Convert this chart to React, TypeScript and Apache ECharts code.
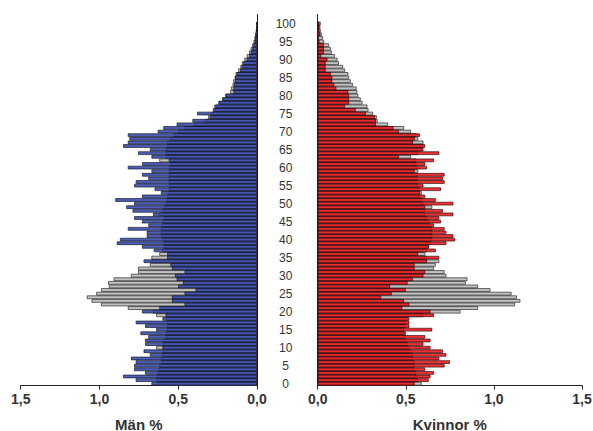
import React, { useEffect, useRef } from "react";
import * as echarts from "echarts";

// Age categories 0..100 (plus two empty slots above 100 so the axis lines reach above the top bar)
const ageCats: string[] = Array.from({ length: 103 }, (_, i) => String(i));
const tickAges = [0, 5, 10, 15, 20, 25, 30, 35, 40, 45, 50, 55, 60, 65, 70, 75, 80, 85, 90, 95, 100];
const xTicks = [0, 0.5, 1.0, 1.5];

// Men, comparison population (grey), % by age 0..100
const maleGray = [
  0.63, 0.64, 0.64, 0.63, 0.62, 0.62, 0.61, 0.61, 0.60, 0.60,
  0.64, 0.60, 0.59, 0.58, 0.58, 0.57, 0.57, 0.57, 0.58, 0.64,
  0.66, 0.82, 0.99, 1.05, 1.08, 1.02, 0.99, 0.94, 0.945, 0.91,
  0.80, 0.755, 0.755, 0.68, 0.67, 0.67, 0.62, 0.60, 0.59, 0.59,
  0.60, 0.61, 0.61, 0.61, 0.60, 0.60, 0.59, 0.62, 0.60, 0.59,
  0.58, 0.57, 0.57, 0.56, 0.56, 0.56, 0.56, 0.56, 0.56, 0.56,
  0.56, 0.55, 0.62, 0.58, 0.58, 0.58, 0.57, 0.57, 0.55, 0.53,
  0.50, 0.46, 0.40, 0.33, 0.31, 0.29, 0.27, 0.26, 0.24, 0.22,
  0.20, 0.17, 0.165, 0.155, 0.15, 0.14, 0.135, 0.12, 0.105, 0.095,
  0.08, 0.065, 0.05, 0.04, 0.03, 0.022, 0.016, 0.011, 0.007, 0.005,
  0.004,
];

// Men, local population (blue), % by age 0..100
const maleBlue = [
  0.67, 0.77, 0.85, 0.71, 0.78, 0.78, 0.77, 0.80, 0.68, 0.72,
  0.60, 0.71, 0.71, 0.69, 0.74, 0.64, 0.71, 0.77, 0.60, 0.58,
  0.73, 0.62, 0.46, 0.54, 0.54, 0.46, 0.39, 0.50, 0.47, 0.51,
  0.52, 0.46, 0.54, 0.55, 0.72, 0.57, 0.57, 0.655, 0.73, 0.89,
  0.87, 0.70, 0.70, 0.82, 0.69, 0.73, 0.78, 0.66, 0.79, 0.83,
  0.78, 0.90, 0.73, 0.61, 0.65, 0.78, 0.77, 0.69, 0.73, 0.67,
  0.82, 0.73, 0.56, 0.67, 0.755, 0.68, 0.85, 0.82, 0.81, 0.82,
  0.63, 0.595, 0.51, 0.41, 0.30, 0.38, 0.28, 0.27, 0.245, 0.22,
  0.20, 0.15, 0.15, 0.145, 0.14, 0.14, 0.13, 0.107, 0.097, 0.087,
  0.065, 0.05, 0.04, 0.03, 0.023, 0.015, 0.012, 0.01, 0.006, 0.004,
  0.003,
];

// Women, comparison population (grey), % by age 0..100
const femaleGray = [
  0.59, 0.57, 0.56, 0.56, 0.55, 0.55, 0.55, 0.54, 0.54, 0.53,
  0.52, 0.51, 0.50, 0.50, 0.49, 0.49, 0.50, 0.50, 0.51, 0.60,
  0.81, 0.91, 1.12, 1.15, 1.13, 1.10, 0.98, 0.91, 0.84, 0.85,
  0.73, 0.72, 0.66, 0.67, 0.69, 0.62, 0.61, 0.62, 0.63, 0.64,
  0.65, 0.65, 0.65, 0.65, 0.64, 0.63, 0.62, 0.61, 0.61, 0.65,
  0.60, 0.59, 0.58, 0.59, 0.58, 0.57, 0.57, 0.57, 0.57, 0.57,
  0.57, 0.56, 0.56, 0.53, 0.57, 0.59, 0.60, 0.60, 0.57, 0.56,
  0.53, 0.49, 0.40, 0.34, 0.335, 0.314, 0.288, 0.282, 0.254, 0.244,
  0.23, 0.225, 0.22, 0.20, 0.187, 0.178, 0.174, 0.155, 0.144, 0.12,
  0.112, 0.098, 0.08, 0.074, 0.064, 0.036, 0.03, 0.023, 0.017, 0.015,
  0.017,
];

// Women, local population (red), % by age 0..100
const femaleRed = [
  0.55, 0.63, 0.64, 0.66, 0.61, 0.72, 0.75, 0.69, 0.73, 0.71,
  0.64, 0.60, 0.64, 0.61, 0.50, 0.65, 0.52, 0.52, 0.52, 0.66,
  0.64, 0.48, 0.52, 0.49, 0.36, 0.42, 0.50, 0.41, 0.51, 0.54,
  0.60, 0.61, 0.55, 0.55, 0.62, 0.69, 0.57, 0.67, 0.63, 0.73,
  0.78, 0.77, 0.73, 0.72, 0.66, 0.70, 0.69, 0.77, 0.71, 0.61,
  0.77, 0.67, 0.61, 0.58, 0.70, 0.60, 0.72, 0.71, 0.72, 0.55,
  0.62, 0.61, 0.66, 0.46, 0.69, 0.60, 0.61, 0.54, 0.55, 0.58,
  0.46, 0.43, 0.33, 0.33, 0.325, 0.273, 0.216, 0.155, 0.178, 0.178,
  0.178, 0.174, 0.106, 0.093, 0.083, 0.083, 0.074, 0.045, 0.045, 0.045,
  0.055, 0.02, 0.035, 0.035, 0.035, 0.01, 0.005, 0.015, 0.01, 0.01,
  0.01,
];

const FONT = "'Liberation Sans', Arial, Helvetica, sans-serif";
const TXT = "#333333";
const fmt = (v: number) => v.toFixed(1).replace(".", ",");

export default function App() {
  const ref = useRef<HTMLDivElement>(null);
  useEffect(() => {
    if (!ref.current) return;
    const chart = echarts.init(ref.current, undefined, { renderer: "svg" });
    const gridTop = 14.5;
    const gridBottom = 45.5;
    const valueAxis = (grid: number, inverse: boolean, name: string) => ({
      type: "value",
      gridIndex: grid,
      inverse,
      min: xTicks[0],
      max: xTicks[xTicks.length - 1],
      interval: 0.5,
      name,
      nameLocation: "middle",
      nameGap: 31,
      nameTextStyle: { fontFamily: FONT, fontWeight: "bold", fontSize: 15, color: TXT },
      axisLine: { show: true, onZero: false, lineStyle: { color: "#222", width: 1 } },
      axisTick: { show: true, length: 4, lineStyle: { color: "#222", width: 1 } },
      axisLabel: { formatter: fmt, fontFamily: FONT, fontWeight: "bold", fontSize: 14, color: TXT, margin: 6 },
      splitLine: { show: false },
    });
    const grayStyle = { color: "#c2c2c2", borderColor: "#2a2a2a", borderWidth: 0.7 };
    const blueStyle = { color: "rgba(48,70,172,0.86)", borderColor: "rgba(10,10,30,0.85)", borderWidth: 0.75 };
    const redStyle = { color: "rgba(236,22,26,0.88)", borderColor: "rgba(30,0,0,0.85)", borderWidth: 0.75 };
    const barCommon = { type: "bar", barGap: "-100%", barCategoryGap: "0%", silent: true };
    chart.setOption({
      animation: false,
      backgroundColor: "#ffffff",
      textStyle: { fontFamily: FONT },
      grid: [
        { left: 20.7, width: 236.3, top: gridTop, bottom: gridBottom, containLabel: false, outerBoundsMode: "none" },
        { left: 317.7, right: 11, top: gridTop, bottom: gridBottom, containLabel: false, outerBoundsMode: "none" },
      ],
      xAxis: [valueAxis(0, true, "Män %"), valueAxis(1, false, "Kvinnor %")],
      yAxis: [
        {
          type: "category",
          gridIndex: 0,
          data: ageCats,
          position: "right",
          axisLine: { show: true, onZero: false, lineStyle: { color: "#222", width: 1 } },
          axisTick: { show: false },
          axisLabel: { show: false },
          splitLine: { show: false },
        },
        {
          type: "category",
          gridIndex: 1,
          data: ageCats,
          position: "left",
          axisLine: { show: true, onZero: false, lineStyle: { color: "#222", width: 1 } },
          axisTick: { show: false },
          axisLabel: {
            interval: (i: number) => tickAges.indexOf(i) >= 0,
            align: "center",
            margin: 32,
            fontFamily: FONT,
            fontSize: 12,
            color: TXT,
          },
          splitLine: { show: false },
        },
      ],
      series: [
        { ...barCommon, name: "Män jämförelse", xAxisIndex: 0, yAxisIndex: 0, data: maleGray, itemStyle: grayStyle },
        { ...barCommon, name: "Män", xAxisIndex: 0, yAxisIndex: 0, data: maleBlue, itemStyle: blueStyle },
        { ...barCommon, name: "Kvinnor jämförelse", xAxisIndex: 1, yAxisIndex: 1, data: femaleGray, itemStyle: grayStyle },
        { ...barCommon, name: "Kvinnor", xAxisIndex: 1, yAxisIndex: 1, data: femaleRed, itemStyle: redStyle },
      ],
    });
    return () => chart.dispose();
  }, []);
  return (
    <div
      ref={ref}
      style={{ position: "fixed", left: 0, top: 0, width: 593, height: 431, background: "#fff" }}
    />
  );
}
